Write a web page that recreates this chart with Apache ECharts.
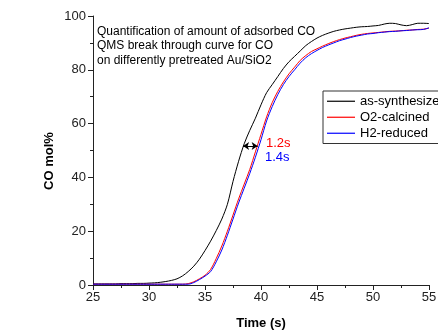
<!DOCTYPE html>
<html>
<head>
<meta charset="utf-8">
<script src="https://cdn.jsdelivr.net/npm/echarts@6/dist/echarts.min.js"></script>
<style>
  html, body { margin: 0; padding: 0; overflow: hidden; background: #fff; }
  #chart { width: 480px; height: 331px; }
</style>
</head>
<body>
<div id="chart"></div>
<script>
// Sampling times (s), every 0.5 s from 25 to 55
const times = [];
for (let i = 0; i <= 60; i++) times.push(25 + i * 0.5);

// CO mol% for each pretreatment
const asSynthesized = [
  0.4, 0.4, 0.4, 0.4, 0.4, 0.5, 0.5, 0.5, 0.6, 0.6,
  0.7, 0.8, 1.0, 1.3, 1.7, 2.3, 3.4, 5.0, 7.0, 9.6,
  12.8, 16.3, 20.2, 24.5, 30.0, 38.5, 46.0, 52.5, 57.5, 62.0,
  67.0, 71.5, 74.5, 77.5, 80.5, 83.0, 85.0, 87.0, 89.0, 90.5,
  91.8, 92.8, 93.6, 94.3, 94.8, 95.2, 95.5, 95.8, 96.0, 96.1,
  96.3, 96.5, 97.0, 97.3, 97.2, 96.7, 96.4, 96.8, 97.3, 97.3,
  97.2
];
const o2Calcined = [
  0.3, 0.3, 0.3, 0.3, 0.3, 0.3, 0.3, 0.3, 0.3, 0.3,
  0.3, 0.3, 0.3, 0.3, 0.3, 0.3, 0.3, 0.5, 1.2, 2.3,
  3.6, 5.8, 9.8, 14.5, 20.0, 26.0, 32.0, 37.5, 43.0, 49.5,
  56.0, 62.5, 67.8, 72.0, 75.5, 78.5, 81.0, 83.5, 85.3, 86.8,
  87.8, 88.8, 89.7, 90.5, 91.2, 91.8, 92.3, 92.8, 93.2, 93.5,
  93.7, 93.9, 94.1, 94.3, 94.4, 94.5, 94.7, 94.8, 95.0, 95.1,
  95.5
];
const h2Reduced = [
  0.3, 0.3, 0.3, 0.3, 0.3, 0.3, 0.3, 0.3, 0.3, 0.3,
  0.3, 0.3, 0.3, 0.3, 0.3, 0.3, 0.3, 0.3, 0.9, 2.0,
  3.3, 5.0, 8.6, 13.0, 18.5, 24.5, 30.5, 36.0, 41.5, 47.5,
  54.0, 61.0, 66.3, 70.8, 74.5, 77.5, 80.0, 82.5, 84.5, 86.0,
  87.2, 88.3, 89.2, 90.0, 90.8, 91.4, 92.0, 92.5, 92.9, 93.3,
  93.5, 93.8, 94.0, 94.2, 94.3, 94.5, 94.6, 94.8, 94.9, 95.0,
  95.6
];

const seriesNames = ['as-synthesized', 'O2-calcined', 'H2-reduced'];
const seriesColors = ['#000000', '#ff0000', '#0000ff'];
const titleLines = [
  'Quantification of amount of adsorbed CO',
  'QMS break through curve for CO',
  'on differently pretreated Au/SiO2'
];
// Breakthrough delay arrow (time span at a given CO level) and its labels
const delayArrow = { from: 38.4, to: 39.7, level: 51.7 };
const delayLabels = ['1.2s', '1.4s'];

const xTicks = { min: 25, max: 55, step: 5 };
const yTicks = { min: 0, max: 100, step: 20 };

const FONT = 'Arial, "Liberation Sans", sans-serif';

const zip = (xs, ys) => xs.map((x, i) => [x, ys[i]]);
const seriesData = [asSynthesized, o2Calcined, h2Reduced];

const chart = echarts.init(document.getElementById('chart'), null, { renderer: 'canvas' });

const axisCommon = {
  axisLine: { show: true, lineStyle: { color: '#222', width: 1 } },
  axisTick: { show: true, inside: false, length: 5, lineStyle: { color: '#222' } },
  minorTick: { show: true, splitNumber: 2, length: 3, lineStyle: { color: '#222' } },
  splitLine: { show: false },
  axisLabel: { color: '#222', fontSize: 13, fontFamily: FONT }
};

const option = {
  animation: false,
  backgroundColor: '#fff',
  grid: {
    left: 93, top: 16, width: 336, height: 269,
    containLabel: false,
    outerBoundsMode: 'none'
  },
  xAxis: Object.assign({}, axisCommon, {
    type: 'value',
    min: xTicks.min, max: xTicks.max, interval: xTicks.step,
    name: 'Time (s)',
    nameLocation: 'middle',
    nameGap: 32,
    nameTextStyle: { color: '#000', fontSize: 13, fontWeight: 'bold', fontFamily: FONT },
    axisLabel: Object.assign({}, axisCommon.axisLabel, { margin: 6 })
  }),
  yAxis: Object.assign({}, axisCommon, {
    type: 'value',
    min: yTicks.min, max: yTicks.max, interval: yTicks.step,
    axisLabel: Object.assign({}, axisCommon.axisLabel, { margin: 7 })
  }),
  legend: {
    orient: 'vertical',
    left: 323, top: 91,
    data: seriesNames,
    icon: 'rect',
    itemWidth: 28, itemHeight: 1.2,
    itemGap: 1.5,
    padding: [3, 8, 3, 4],
    borderColor: '#333', borderWidth: 1,
    backgroundColor: '#fff',
    textStyle: { color: '#000', fontSize: 13, fontFamily: FONT, lineHeight: 14.5 },
    selectedMode: false
  },
  series: seriesNames.map((name, i) => ({
    name: name,
    type: 'line',
    data: zip(times, seriesData[i]),
    showSymbol: false,
    smooth: 0.3,
    lineStyle: { color: seriesColors[i], width: 1 },
    itemStyle: { color: seriesColors[i] },
    z: 2 + i,
    markLine: i === 0 ? {
      silent: true,
      symbol: ['arrow', 'arrow'],
      symbolSize: [6, 6],
      lineStyle: { color: '#000', type: 'solid', width: 1 },
      label: { show: false },
      data: [[
        { coord: [delayArrow.from, delayArrow.level] },
        { coord: [delayArrow.to, delayArrow.level] }
      ]]
    } : undefined
  })),
  graphic: [
    {
      type: 'text', left: 97, top: 24,
      style: {
        text: titleLines.join('\n'),
        fill: '#000', font: '12px ' + FONT, lineHeight: 14.5
      }
    },
    {
      type: 'text', x: 49, y: 161, rotation: Math.PI / 2,
      style: {
        text: 'CO mol%', fill: '#000',
        font: 'bold 13px ' + FONT, align: 'center', verticalAlign: 'middle'
      }
    },
    {
      type: 'text', left: 266, top: 137,
      style: { text: delayLabels[0], fill: '#ff0000', font: '13px ' + FONT }
    },
    {
      type: 'text', left: 265, top: 151,
      style: { text: delayLabels[1], fill: '#0000ff', font: '13px ' + FONT }
    }
  ]
};

chart.setOption(option);
</script>
</body>
</html>
